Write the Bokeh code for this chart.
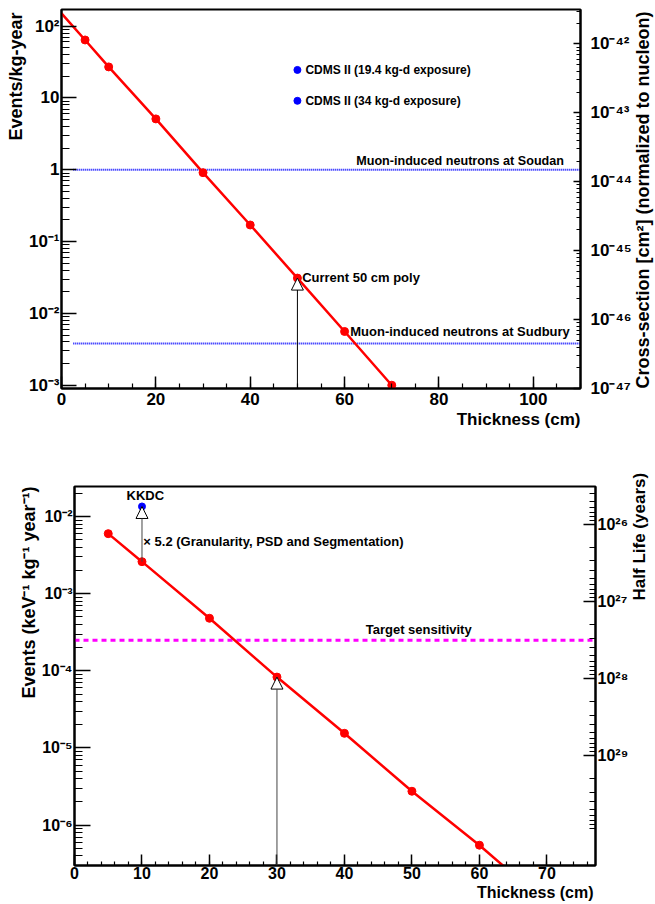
import math
from bokeh.plotting import figure
from bokeh.models import (Range1d, LogAxis, LogScale, FixedTicker, SingleIntervalTicker,
                          CustomJSTickFormatter, Label, Arrow, NormalHead, Title)
from bokeh.embed import file_html
from bokeh.resources import INLINE

FONT = "Liberation Sans"

# ---------------- data: top panel (dark matter) ----------------
top_x = [5, 10, 20, 30, 40, 50, 60, 70]
top_y = [64, 27, 5.1, 0.91, 0.17, 0.031, 0.0056, 0.001]
top_line_x = [0] + top_x
top_line_y = [150] + top_y
soudan_level = 1.0
sudbury_level = 0.0038
hline_x = [2.5, 110]
cdms_x = [50, 50]
cdms_y = [24.5, 9.1]
cdms_labels = ["CDMS II (19.4 kg-d exposure)", "CDMS II (34 kg-d exposure)"]
current_x = 50
current_y = 0.031

# ---------------- data: bottom panel (double beta) ----------------
bot_x = [5, 10, 20, 30, 40, 50, 60]
bot_y = [6.0e-3, 2.6e-3, 4.8e-4, 8.3e-5, 1.55e-5, 2.75e-6, 5.5e-7]
bot_line_x = bot_x + [65]
bot_line_y = bot_y + [2.3e-7]
kkdc_x = 10
kkdc_y = 1.35e-2
kkdc_from = 2.6e-3
target_level = 2.5e-4
arrow30_x = 30
arrow30_y = 8.3e-5

sup_js = """
const sup = {"0":"\\u2070","1":"\\u00b9","2":"\\u00b2","3":"\\u00b3","4":"\\u2074",
             "5":"\\u2075","6":"\\u2076","7":"\\u2077","8":"\\u2078","9":"\\u2079","-":"\\u207b"};
const e = Math.round(Math.log10(tick));
if (e === 0) return "1";
if (e === 1) return "10";
let s = "10";
for (const c of String(e)) s += sup[c];
return s;
"""


def dec_ticks(lo, hi):
    major = [10.0 ** k for k in range(lo, hi + 1)]
    minor = [m * 10.0 ** k for k in range(lo - 1, hi + 1) for m in range(2, 10)]
    return FixedTicker(ticks=major, minor_ticks=minor)


def style_axis(ax, tick_in, minor_in, lab_size, lab_standoff):
    ax.major_tick_in = tick_in
    ax.major_tick_out = 0
    ax.minor_tick_in = minor_in
    ax.minor_tick_out = 0
    ax.major_tick_line_width = 1.5
    ax.minor_tick_line_width = 1.2
    ax.major_tick_line_color = "black"
    ax.minor_tick_line_color = "black"
    ax.axis_line_width = 2
    ax.axis_line_color = "black"
    ax.major_label_text_font = FONT
    ax.major_label_text_font_style = "bold"
    ax.major_label_text_font_size = lab_size
    ax.major_label_text_color = "black"
    ax.major_label_standoff = lab_standoff
    ax.axis_label_text_font = FONT
    ax.axis_label_text_font_style = "bold"
    ax.axis_label_text_color = "black"


def lbl(p, x, y, text, size="13px", align="left", baseline="middle",
        x_offset=0, y_offset=0):
    p.add_layout(Label(x=x, y=y, text=text, text_font=FONT, text_font_style="bold",
                       text_font_size=size, text_align=align, text_baseline=baseline,
                       text_color="black", x_offset=x_offset, y_offset=y_offset))


def side_title(p, text, size, side, standoff=0, offset=0):
    p.add_layout(Title(text=text, align="right", text_font=FONT, text_font_style="bold",
                       text_font_size=size, text_color="black", standoff=standoff,
                       offset=offset), side)


# ================= TOP FIGURE =================
p1 = figure(frame_width=519, frame_height=379, x_range=Range1d(0, 110),
            y_range=Range1d(9e-4, 170), y_axis_type="log",
            output_backend="svg", toolbar_location=None,
            min_border_left=61, min_border_right=74, min_border_top=9, min_border_bottom=45)
p1.xgrid.visible = False
p1.ygrid.visible = False
p1.outline_line_color = "black"
p1.outline_line_width = 2
p1.background_fill_color = "white"
p1.border_fill_color = "white"

xa = p1.xaxis[0]
xa.ticker = SingleIntervalTicker(interval=20, num_minor_ticks=4)
style_axis(xa, 12, 5, "17px", 4)
side_title(p1, "Thickness (cm)", "17px", "below")

ya = p1.yaxis[0]
ya.ticker = dec_ticks(-3, 2)
ya.formatter = CustomJSTickFormatter(code=sup_js)
style_axis(ya, 15, 8, "17px", 2)
side_title(p1, "Events/kg-year", "18px", "left", offset=3)

p1.extra_y_ranges = {"xs": Range1d(1e-47, 10 ** -41.5)}
p1.extra_y_scales = {"xs": LogScale()}
ra = LogAxis(y_range_name="xs", ticker=dec_ticks(-47, -42),
             formatter=CustomJSTickFormatter(code=sup_js))
style_axis(ra, 7, 4, "17px", 10)
ra.axis_label = "Cross-section [cm\u00b2] (normalized to nucleon)"
ra.axis_label_orientation = math.pi / 2
ra.axis_label_align = "start"
ra.axis_label_text_font_size = "18px"
ra.axis_label_standoff = 8
p1.add_layout(ra, "right")

# horizontal reference lines
p1.line(hline_x, [soudan_level] * 2, line_color="#0000ff", line_width=2, line_dash="1 1")
p1.line(hline_x, [sudbury_level] * 2, line_color="#0000ff", line_width=2, line_dash="1 1")

p1.line(top_line_x, top_line_y, line_color="#ff0000", line_width=2.5)
p1.scatter(top_x, top_y, size=8, color="#ff0000")
p1.scatter(cdms_x, cdms_y, size=7, color="#0000ff")
for cy, t in zip(cdms_y, cdms_labels):
    lbl(p1, cdms_x[0], cy, t, size="12px", x_offset=8)

p1.add_layout(Arrow(end=NormalHead(size=12, fill_color="white", line_color="black", line_width=1),
                    x_start=current_x, y_start=p1.y_range.start, x_end=current_x, y_end=current_y,
                    line_color="black", line_width=1))

lbl(p1, 106.5, soudan_level, "Muon-induced neutrons at Soudan", size="12.6px",
    align="right", baseline="bottom", y_offset=2)
lbl(p1, 61.2, 0.0056, "Muon-induced neutrons at Sudbury", size="13px")
lbl(p1, 51.0, 0.032, "Current 50 cm poly", size="13px")

# ================= BOTTOM FIGURE =================
p2 = figure(frame_width=521, frame_height=379, x_range=Range1d(0, 77.2),
            y_range=Range1d(3.0e-7, 0.0245), y_axis_type="log",
            output_backend="svg", toolbar_location=None,
            min_border_left=74, min_border_right=60, min_border_top=53, min_border_bottom=36)
p2.xgrid.visible = False
p2.ygrid.visible = False
p2.outline_line_color = "black"
p2.outline_line_width = 2

xb = p2.xaxis[0]
xb.ticker = SingleIntervalTicker(interval=10, num_minor_ticks=5)
style_axis(xb, 11, 4, "16px", 1)
side_title(p2, "Thickness (cm)", "16px", "below", offset=2)

yb = p2.yaxis[0]
yb.ticker = dec_ticks(-6, -2)
yb.formatter = CustomJSTickFormatter(code=sup_js)
style_axis(yb, 16, 8, "16px", 2)
side_title(p2, "Events (keV\u207b\u00b9 kg\u207b\u00b9 year\u207b\u00b9)", "18px", "left")

p2.extra_y_ranges = {"hl": Range1d(10 ** 30.43, 10 ** 25.51)}
p2.extra_y_scales = {"hl": LogScale()}
rb = LogAxis(y_range_name="hl", ticker=dec_ticks(26, 29),
             formatter=CustomJSTickFormatter(code=sup_js))
style_axis(rb, 12, 6, "16px", 2)
# the label starts at the axis centre and reads upwards; leading no-break spaces
# lift it towards the top end of the axis, as in the original
rb.axis_label = "\u00a0" * 16 + "Half Life (years)"
rb.axis_label_orientation = math.pi / 2
rb.axis_label_align = "center"
rb.axis_label_text_font_size = "17px"
rb.axis_label_standoff = 8
p2.add_layout(rb, "right")

p2.line([p2.x_range.start, p2.x_range.end], [target_level] * 2, line_color="#ff00ff",
        line_width=3, line_dash="5 4")
p2.line(bot_line_x, bot_line_y, line_color="#ff0000", line_width=2.5)
p2.scatter(bot_x, bot_y, size=8, color="#ff0000")
p2.scatter([kkdc_x], [kkdc_y], size=7, color="#0000ff")

p2.add_layout(Arrow(end=NormalHead(size=12, fill_color="white", line_color="black", line_width=1),
                    x_start=kkdc_x, y_start=kkdc_from, x_end=kkdc_x, y_end=kkdc_y,
                    line_color="#444444", line_width=1))
p2.add_layout(Arrow(end=NormalHead(size=12, fill_color="white", line_color="black", line_width=1),
                    x_start=arrow30_x, y_start=p2.y_range.start, x_end=arrow30_x, y_end=arrow30_y,
                    line_color="#444444", line_width=1))

lbl(p2, 10.5, 0.0187, "KKDC", size="13px", align="center")
lbl(p2, 10.2, 4.7e-3, "\u00d7 5.2 (Granularity, PSD and Segmentation)", size="13px")
lbl(p2, 51.0, target_level, "Target sensitivity", size="13px", align="center",
    baseline="bottom", y_offset=3)

open("out.html", "w").write(file_html((p1, p2), INLINE))
